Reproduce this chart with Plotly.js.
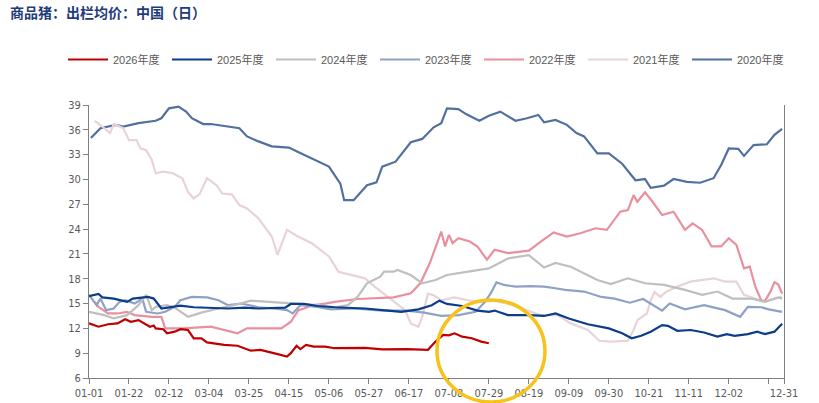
<!DOCTYPE html>
<html>
<head>
<meta charset="utf-8">
<script src="https://cdn.plot.ly/plotly-3.0.1.min.js"></script>
<style>
  html, body { margin: 0; padding: 0; background: #fff; }
  #chart { width: 819px; height: 403px; }
</style>
</head>
<body>
<div id="chart"></div>
<script>
// day index within a leap-year calendar (0 = 01-01, 365 = 12-31)
const tickDays = [0, 21, 42, 63, 84, 105, 126, 147, 168, 189, 210, 231, 252, 273, 294, 315, 336, 357, 365];
const tickLabels = ["01-01", "01-22", "02-12", "03-04", "03-25", "04-15", "05-06", "05-27", "06-17",
  "07-08", "07-29", "08-19", "09-09", "09-30", "10-21", "11-11", "12-02", "", "12-31"];

const yearNames = ["2020年度", "2021年度", "2022年度", "2023年度", "2024年度", "2025年度", "2026年度"];
const yearColors = ["#52709F", "#E8D3D7", "#E9909D", "#8EA2C6", "#BFBFBF", "#0B3D8A", "#C00000"];

// price, yuan/kg
const days2020 = [1, 6, 14, 18, 26, 35, 38, 42, 47, 51, 54, 60, 64, 72, 79, 83, 89, 96, 102, 105, 109, 117, 126, 132, 134, 139, 146, 151, 154, 161, 169, 175, 181, 185, 188, 194, 198, 205, 210, 216, 224, 230, 236, 239, 245, 251, 256, 260, 267, 273, 280, 287, 292, 295, 302, 307, 314, 321, 328, 332, 336, 341, 344, 349, 356, 360, 364];
const vals2020 = [35.0, 36.2, 36.6, 36.4, 36.8, 37.1, 37.4, 38.6, 38.8, 38.2, 37.4, 36.7, 36.7, 36.45, 36.2, 35.2, 34.6, 34.0, 33.85, 33.85, 33.4, 32.55, 31.55, 29.5, 27.5, 27.5, 29.3, 29.65, 31.55, 32.15, 34.5, 34.9, 36.3, 36.8, 38.6, 38.5, 37.9, 37.1, 37.7, 38.2, 37.1, 37.4, 37.8, 36.9, 37.2, 36.6, 35.6, 35.2, 33.15, 33.15, 31.9, 29.9, 30.05, 29.0, 29.25, 30.05, 29.7, 29.6, 30.15, 31.75, 33.75, 33.7, 32.85, 34.15, 34.25, 35.4, 36.1];

const days2021 = [3, 7, 11, 13, 18, 21, 25, 27, 30, 33, 35, 39, 44, 49, 52, 55, 58, 62, 67, 70, 75, 79, 83, 89, 96, 99, 104, 109, 117, 124, 126, 131, 136, 145, 150, 159, 166, 169, 173, 175, 178, 181, 185, 192, 199, 206, 213, 223, 230, 237, 246, 253, 262, 268, 274, 283, 286, 288, 293, 295, 297, 300, 303, 309, 316, 323, 328, 334, 340, 344, 350, 355, 360, 364];
const vals2021 = [37.07, 36.4, 35.6, 36.7, 36.2, 34.75, 34.75, 33.75, 33.55, 32.35, 30.75, 30.95, 30.75, 30.15, 28.5, 27.7, 28.2, 30.15, 29.3, 28.3, 28.2, 26.9, 26.5, 25.3, 23.1, 20.9, 23.9, 23.2, 22.3, 21.0, 20.7, 18.85, 18.55, 18.05, 17.05, 15.4, 14.2, 12.6, 12.2, 13.4, 16.2, 16.0, 15.4, 15.75, 15.4, 15.2, 15.35, 14.8, 14.2, 13.6, 13.6, 12.6, 11.8, 10.5, 10.4, 10.5, 11.8, 13.0, 13.8, 15.4, 16.4, 15.8, 16.4, 17.05, 17.65, 17.85, 18.05, 17.65, 17.65, 16.05, 15.6, 15.2, 15.6, 15.8];

const days2022 = [3, 5, 10, 15, 20, 24, 33, 38, 40, 50, 64, 78, 83, 101, 106, 110, 113, 117, 124, 129, 141, 160, 169, 174, 179, 181, 185, 187, 189, 191, 194, 200, 204, 209, 213, 220, 231, 238, 244, 251, 258, 266, 272, 279, 283, 286, 288, 292, 296, 301, 307, 313, 317, 322, 327, 332, 336, 340, 344, 347, 350, 353, 355, 358, 360, 362, 364];
const vals2022 = [15.2, 14.6, 13.8, 13.8, 14.0, 13.6, 13.4, 13.4, 12.0, 12.0, 12.2, 11.4, 12.0, 12.0, 12.8, 14.2, 14.4, 14.8, 15.0, 15.2, 15.55, 15.75, 16.25, 17.45, 19.9, 21.1, 23.7, 21.9, 23.3, 22.3, 22.9, 22.5, 21.9, 20.3, 21.5, 21.1, 21.4, 22.6, 23.6, 23.1, 23.5, 24.1, 23.9, 26.1, 26.3, 28.1, 27.3, 28.45, 27.3, 25.7, 26.1, 23.9, 24.7, 23.9, 21.9, 21.9, 22.9, 22.1, 19.25, 19.45, 17.0, 15.4, 15.3, 16.5, 17.6, 17.3, 16.2];

const days2023 = [0, 4, 6, 9, 13, 16, 19, 24, 28, 30, 36, 40, 45, 48, 54, 62, 68, 73, 80, 89, 97, 104, 107, 111, 120, 127, 139, 154, 167, 176, 185, 194, 203, 208, 211, 214, 218, 224, 232, 239, 245, 250, 260, 269, 276, 284, 291, 301, 305, 313, 323, 334, 342, 346, 353, 357, 364];
const vals2023 = [16.05, 14.8, 15.6, 14.2, 14.4, 15.2, 15.4, 15.0, 15.6, 14.0, 13.8, 14.0, 14.6, 15.4, 15.8, 15.75, 15.4, 14.8, 15.0, 14.55, 14.4, 14.2, 13.8, 14.8, 14.6, 14.3, 14.4, 14.15, 14.15, 13.9, 13.5, 13.6, 14.0, 15.2, 16.25, 17.55, 17.25, 17.05, 17.1, 17.05, 16.85, 16.65, 16.45, 15.8, 15.6, 15.1, 15.55, 14.15, 15.0, 14.3, 14.8, 14.2, 13.4, 14.6, 14.55, 14.3, 14.0];

const days2024 = [0, 8, 13, 20, 26, 30, 33, 35, 41, 45, 52, 59, 68, 76, 85, 96, 110, 120, 129, 136, 141, 146, 153, 155, 160, 162, 169, 175, 182, 188, 199, 210, 220, 231, 239, 245, 253, 260, 267, 274, 283, 292, 302, 313, 322, 330, 338, 348, 355, 362, 364];
const vals2024 = [14.0, 13.6, 13.2, 13.6, 14.8, 16.05, 14.2, 14.6, 14.8, 14.5, 13.4, 13.9, 14.4, 14.8, 15.35, 15.2, 15.0, 14.8, 14.55, 14.8, 15.8, 17.45, 18.25, 18.85, 18.85, 19.05, 18.45, 17.45, 17.85, 18.45, 18.85, 19.25, 20.45, 20.85, 19.35, 19.9, 19.45, 18.65, 17.85, 17.35, 18.05, 17.45, 17.25, 16.65, 16.05, 16.45, 15.6, 15.6, 15.2, 15.75, 15.6];

const days2025 = [0, 5, 7, 13, 20, 23, 31, 34, 38, 43, 48, 55, 64, 73, 82, 89, 103, 106, 113, 120, 129, 145, 157, 164, 173, 180, 184, 188, 196, 204, 210, 213, 220, 231, 239, 245, 252, 262, 273, 280, 285, 290, 295, 301, 304, 309, 316, 323, 330, 335, 339, 346, 351, 355, 360, 364];
const vals2025 = [15.9, 16.15, 15.75, 15.6, 15.2, 15.6, 15.8, 15.6, 14.4, 14.55, 14.75, 14.55, 14.5, 14.4, 14.5, 14.4, 14.5, 14.95, 14.95, 14.7, 14.55, 14.4, 14.15, 14.0, 14.3, 14.8, 15.35, 14.95, 14.7, 14.15, 14.0, 14.15, 13.6, 13.6, 13.5, 13.8, 13.2, 12.5, 12.0, 11.4, 10.8, 11.1, 11.6, 12.4, 12.3, 11.7, 11.8, 11.5, 11.0, 11.3, 11.1, 11.3, 11.6, 11.3, 11.6, 12.55];

const days2026 = [0, 5, 10, 15, 19, 22, 26, 30, 32, 34, 35, 39, 41, 45, 48, 52, 55, 59, 62, 71, 78, 85, 90, 97, 104, 106, 109, 111, 114, 118, 124, 129, 145, 154, 167, 178, 182, 186, 189, 192, 196, 201, 206, 210];
const vals2026 = [12.6, 12.2, 12.5, 12.6, 13.1, 12.8, 13.0, 12.4, 12.2, 12.35, 12.0, 11.9, 11.4, 11.6, 11.9, 11.8, 10.8, 10.8, 10.3, 10.0, 9.9, 9.3, 9.4, 9.0, 8.6, 9.0, 9.9, 9.5, 10.0, 9.8, 9.8, 9.6, 9.65, 9.45, 9.5, 9.4, 10.4, 11.2, 11.15, 11.4, 11.0, 10.8, 10.4, 10.2];

const yearDays = [days2020, days2021, days2022, days2023, days2024, days2025, days2026];
const yearVals = [vals2020, vals2021, vals2022, vals2023, vals2024, vals2025, vals2026];

const axisGrey = "#808080";
const textGrey = "#595959";
const tickFont = { family: "Liberation Sans Narrow, DejaVu Sans Condensed, Liberation Sans, sans-serif", size: 11, color: textGrey };
const legendFont = { family: "Liberation Sans, Noto Sans CJK SC, sans-serif", size: 11, color: textGrey };

// one small legend per year so the row keeps the reference spacing
const legendIds = yearNames.map((_, i) => (i === 0 ? "legend" : "legend" + (i + 1)));

// oldest year first so 2026 is drawn on top
const traces = yearNames.map((name, i) => ({
  type: "scatter",
  mode: "lines",
  name: name,
  x: yearDays[i],
  y: yearVals[i],
  line: { color: yearColors[i], width: 2.2 },
  legend: legendIds[i],
  hoverinfo: "skip"
}));

const layout = {
  width: 819,
  height: 403,
  margin: { l: 89, r: 35, t: 105, b: 25 },
  paper_bgcolor: "#fff",
  plot_bgcolor: "#fff",
  showlegend: true,
  title: {
    text: "<b>商品猪：出栏均价：中国（日）</b>",
    x: 10 / 819,
    xanchor: "left",
    xref: "container",
    y: 1 - 13 / 403,
    yanchor: "middle",
    yref: "container",
    font: { family: "Noto Sans CJK SC, sans-serif", size: 14, color: "#1F3C78" }
  },
  xaxis: {
    range: [0, 365],
    tickmode: "array",
    tickvals: tickDays,
    ticktext: tickLabels,
    ticks: "outside",
    ticklen: 5,
    tickcolor: axisGrey,
    showline: true,
    linecolor: axisGrey,
    linewidth: 1,
    mirror: false,
    showgrid: false,
    zeroline: false,
    tickfont: tickFont,
    automargin: false
  },
  yaxis: {
    range: [6, 39],
    tickmode: "array",
    tickvals: [6, 9, 12, 15, 18, 21, 24, 27, 30, 33, 36, 39],
    ticks: "outside",
    ticklen: 5,
    tickcolor: axisGrey,
    showline: true,
    linecolor: axisGrey,
    linewidth: 1,
    mirror: true,
    showgrid: false,
    zeroline: false,
    tickfont: tickFont,
    automargin: false
  },
  annotations: [{
    text: "单位：元/千克",
    xref: "container",
    yref: "container",
    x: 52 / 819,
    xanchor: "left",
    y: 1 - 83 / 403,
    yanchor: "middle",
    showarrow: false,
    font: { family: "Noto Sans CJK SC, sans-serif", size: 10.5, color: textGrey }
  }],
  shapes: [{
    // hand-drawn style highlight around the latest readings
    type: "circle",
    xref: "paper",
    yref: "paper",
    x0: 0.5007,
    x1: 0.6561,
    y0: -0.088,
    y1: 0.286,
    line: { color: "#F6C21B", width: 3.5 },
    layer: "above"
  }]
};

// legend row: 2026 first on the left, 2020 last
legendIds.forEach((id, i) => {
  const slot = yearNames.length - 1 - i;
  layout[id] = {
    orientation: "h",
    xref: "container",
    yref: "container",
    x: (63 + 104 * slot) / 819,
    xanchor: "left",
    y: 1 - 45 / 403,
    yanchor: "top",
    itemwidth: 40,
    font: legendFont,
    bgcolor: "rgba(0,0,0,0)"
  };
});

Plotly.newPlot("chart", traces, layout, {
  displayModeBar: false,
  staticPlot: true
});
</script>
</body>
</html>
